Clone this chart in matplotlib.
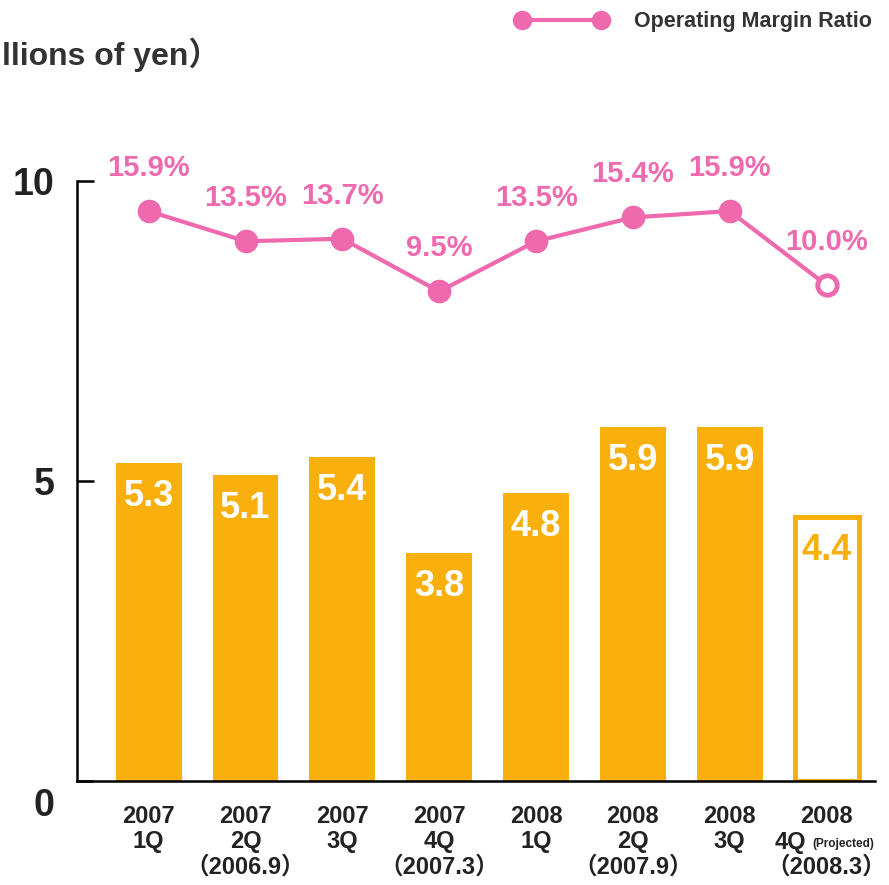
import matplotlib
matplotlib.use("Agg")
import matplotlib.pyplot as plt
from matplotlib.lines import Line2D

# data
quarters = ["2007\n1Q", "2007\n2Q\n（2006.9）", "2007\n3Q", "2007\n4Q\n（2007.3）",
            "2008\n1Q", "2008\n2Q\n（2007.9）", "2008\n3Q", "2008\n \n（2008.3）"]
operating_income = [5.3, 5.1, 5.4, 3.8, 4.8, 5.9, 5.9, 4.4]
margin_ratio = [15.9, 13.5, 13.7, 9.5, 13.5, 15.4, 15.9, 10.0]
projected = [False, False, False, False, False, False, False, True]

ORANGE = "#FAB00C"
PINK = "#EE69AD"
DARK = "#333333"
FONT = ["Liberation Sans", "Noto Sans CJK JP"]

plt.rcParams['font.family'] = FONT
plt.rcParams['font.weight'] = 'bold'

fig = plt.figure(figsize=(8.89, 8.85), dpi=100)
ax = fig.add_axes([77 / 889, 1 - 781 / 885, (875 - 77) / 889, (781 - 181) / 885])

x = list(range(len(operating_income)))
for i, v in enumerate(operating_income):
    if projected[i]:
        ax.bar(i, v, width=0.66, facecolor="white", edgecolor=ORANGE, linewidth=3.6)
        col = ORANGE
    else:
        ax.bar(i, v, width=0.68, color=ORANGE)
        col = "white"
    ax.annotate(f"{v:.1f}", (i, v), xytext=(0, -24), textcoords="offset points",
                ha="center", va="center", fontsize=26, color=col, fontweight="bold")

ax.set_xlim(-0.74, 7.5)
ax.set_ylim(0, 10)

# secondary scale for the margin ratio line
ax2 = ax.twinx()
ax2.set_ylim(-29.5, 18.3)
ax2.axis("off")
ax2.plot(x, margin_ratio, color=PINK, lw=3, zorder=3)
ax2.plot(x[:-1], margin_ratio[:-1], "o", color=PINK, ms=16, zorder=4)
ax2.plot(x[-1], margin_ratio[-1], "o", mfc="white", mec=PINK, mew=3.5, ms=14, zorder=4)
for i, p in enumerate(margin_ratio):
    ax2.annotate(f"{p:.1f}%", (i, p), xytext=(0, 31), textcoords="offset points",
                 ha="center", va="center", fontsize=21, color=PINK, fontweight="bold",
                 annotation_clip=False)

# axes styling
for s in ["top", "right"]:
    ax.spines[s].set_visible(False)
ax.spines["left"].set_linewidth(1.8)
ax.spines["bottom"].set_linewidth(1.8)
ax.set_yticks([0, 5, 10])
ax.set_yticklabels(["", "5", "10"])
ax.tick_params(axis="y", direction="in", length=12, width=1.8, pad=16,
               labelsize=27, labelcolor="#222222")
ax.annotate("0", (0, 0), xycoords="axes fraction", xytext=(-16, -18),
            textcoords="offset points", ha="right", va="center",
            fontsize=27, color="#222222", fontweight="bold")

ax.set_xticks(x)
ax.set_xticklabels(quarters, fontsize=17, color="#222222", linespacing=1.15)
ax.tick_params(axis="x", length=0, pad=17)

# "4Q (Projected)" on last label
ax.annotate("4Q", (7, 0), xycoords=("data", "axes fraction"), xytext=(-26, -44),
            textcoords="offset points", ha="center", va="center",
            fontsize=17, color="#222222", fontweight="bold")
ax.annotate("(Projected)", (7, 0), xycoords=("data", "axes fraction"), xytext=(-10, -45),
            textcoords="offset points", ha="left", va="center",
            fontsize=8.5, color="#222222", fontweight="bold", annotation_clip=False)

fig.text(220 / 889, 1 - 55 / 885, "（Billions of yen）", ha="right", va="center",
         fontsize=23, color=DARK, fontweight="bold")

handle = Line2D([], [], color=PINK, lw=3, marker="o", ms=13)
fig.legend(handles=[handle], labels=["Operating Margin Ratio"], loc="center right",
           bbox_to_anchor=(880 / 889, 1 - 22 / 885), frameon=False, numpoints=2,
           handlelength=4.3, prop={"size": 15.5, "weight": "bold"},
           labelcolor=DARK, borderaxespad=0, handletextpad=1.2)

fig.savefig("out.png", dpi=100)
